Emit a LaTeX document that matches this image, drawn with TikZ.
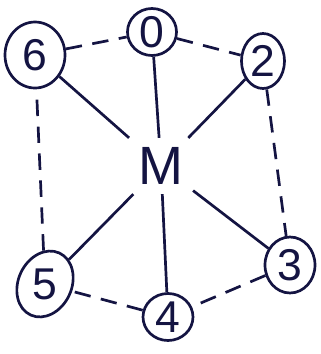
\documentclass[tikz,border=0pt]{standalone}
\usepackage{fontspec}
\setmainfont{Liberation Sans}
\usetikzlibrary{shapes.geometric, arrows.meta}
\definecolor{ink}{RGB}{20,20,66}
\tikzset{
    base/.style={draw=ink, line width=2.3pt, text=ink, font=\fontsize{38}{40}\selectfont, inner sep=0pt},
    station/.style={base, ellipse},
    hub/.style={text=ink, font=\fontsize{46}{48}\selectfont, inner sep=8pt},
    spoke/.style={line width=2.3pt, draw=ink},
    ring/.style={line width=2.3pt, draw=ink, dash pattern=on 14pt off 9pt}
}
\begin{document}
\begin{tikzpicture}[x=0.03cm, y=-0.03cm]
    \useasboundingbox (0,0) rectangle (321,354);
    % Nodes
    \node (m) [hub] at (161,166) {M};
    \node (s0) [station, minimum width=1.47cm, minimum height=1.41cm] at (152,32) {0};
    \node (s6) [station, minimum width=1.8cm, minimum height=1.98cm] at (35,55) {6};
    \node (s2) [station, minimum width=1.29cm, minimum height=1.65cm] at (263,61) {2};
    \node (s3) [station, minimum width=1.5cm, minimum height=1.68cm] at (290,265) {3};
    \node (s4) [station, minimum width=1.5cm, minimum height=1.41cm] at (168,317) {4};
    \node (s5) [station, minimum width=1.6cm, minimum height=2.05cm, rotate=-25] at (45,284) {\rotatebox{25}{5}};

    % Spokes
    \foreach \s in {s0, s6, s2, s3, s4, s5}
        \draw [spoke] (m) -- (\s);

    % Ring
    \draw [ring] (s6) -- (s0);
    \draw [ring] (s0) -- (s2);
    \draw [ring] (s2) -- (s3);
    \draw [ring] (s3) -- (s4);
    \draw [ring] (s4) -- (s5);
    \draw [ring] (s5) -- (s6);
\end{tikzpicture}
\end{document}
